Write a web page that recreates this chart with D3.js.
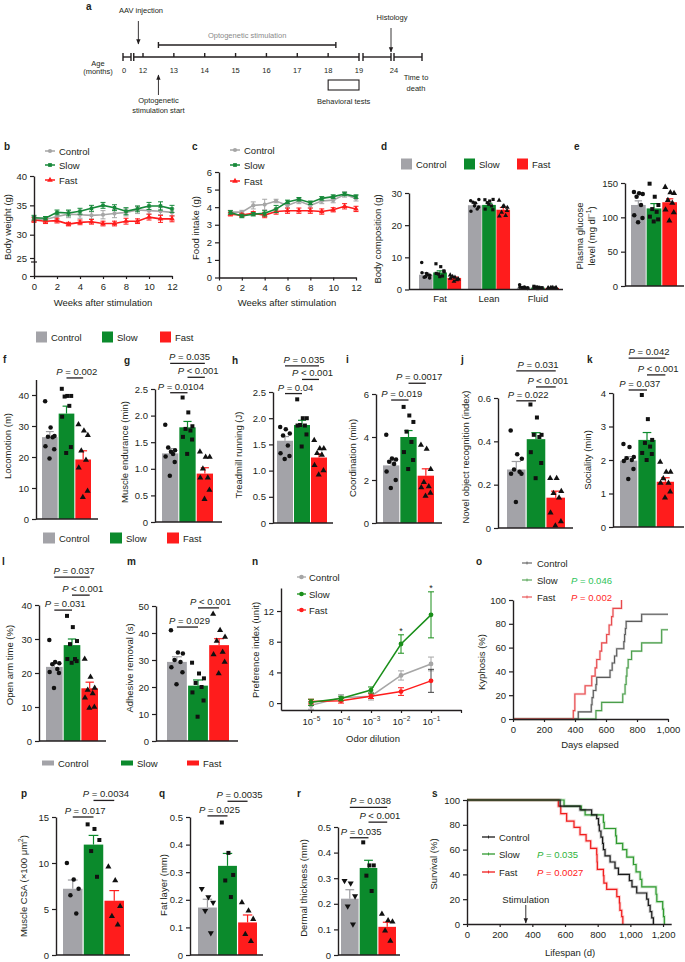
<!DOCTYPE html>
<html>
<head>
<meta charset="utf-8">
<script src="https://cdn.jsdelivr.net/npm/d3@7/dist/d3.min.js"></script>
<style>
  body { margin: 0; background: #fff; }
  svg text { font-family: "Liberation Sans", Arial, Helvetica, sans-serif; }
</style>
</head>
<body>
<svg id="fig" width="685" height="962"></svg>
<script>
// ---------------- data ----------------
const groups = ["Control", "Slow", "Fast"];

// a: timeline
const ageMonths = [12, 13, 14, 15, 16, 17, 18, 19];
const aavMonth = 11.85;
const stimStart = 12.5;
const stimEnd = 18.25;
const behaviorMonths = [18, 19];

// b: body weight (weekly)
const weeksB = [0, 1, 2, 3, 4, 5, 6, 7, 8, 9, 10, 11, 12];
const bwControl = [32.7, 32.6, 33.1, 33.5, 33.4, 33.3, 33.4, 33.6, 33.8, 34.2, 34.1, 34.0, 33.8];
const bwSlow = [32.9, 32.8, 33.8, 33.7, 34.0, 34.5, 35.0, 34.6, 34.0, 34.4, 34.9, 34.9, 34.4];
const bwFast = [32.5, 32.3, 32.4, 31.8, 32.1, 32.2, 31.9, 31.9, 32.3, 32.3, 33.0, 32.7, 32.7];
const bwControlErr = [0.4, 0.4, 0.5, 0.6, 0.6, 0.6, 0.7, 0.7, 0.6, 0.6, 0.6, 0.6, 0.6];
const bwSlowErr = [0.4, 0.3, 0.4, 0.5, 0.5, 0.5, 0.5, 0.5, 0.6, 0.5, 0.6, 0.7, 0.6];
const bwFastErr = [0.4, 0.4, 0.4, 0.3, 0.4, 0.4, 0.4, 0.4, 0.5, 0.4, 0.5, 0.6, 0.5];

// c: food intake (weekly)
const weeksC = [1, 2, 3, 4, 5, 6, 7, 8, 9, 10, 11, 12];
const foodControl = [3.72, 3.72, 4.1, 4.15, 4.35, 4.1, 4.35, 4.1, 4.35, 4.4, 4.72, 4.5];
const foodSlow = [3.7, 3.5, 3.6, 3.65, 3.9, 4.3, 4.45, 4.25, 4.5, 4.6, 4.75, 4.6];
const foodFast = [3.6, 3.55, 3.65, 3.55, 3.75, 3.8, 3.8, 3.8, 3.75, 3.85, 4.05, 3.9];
const foodControlErr = [0.1, 0.1, 0.2, 0.3, 0.1, 0.15, 0.15, 0.15, 0.15, 0.15, 0.15, 0.15];
const foodSlowErr = [0.1, 0.1, 0.1, 0.15, 0.2, 0.1, 0.1, 0.1, 0.1, 0.1, 0.1, 0.1];
const foodFastErr = [0.1, 0.1, 0.1, 0.15, 0.15, 0.15, 0.15, 0.15, 0.15, 0.12, 0.15, 0.15];

// d: body composition
const compCats = ["Fat", "Lean", "Fluid"];
const compControl = [4.6, 26.2, 0.6];
const compSlow = [5.3, 26.3, 0.6];
const compFast = [3.6, 24.8, 0.5];
const compControlErr = [0.6, 0.5, 0.15];
const compSlowErr = [0.5, 0.5, 0.1];
const compFastErr = [0.3, 0.7, 0.05];
const compControlPts = [[8.4, 5.0, 4.4, 3.8, 4.5, 5.2, 3.6, 4.0], [27.6, 26.9, 28.0, 27.1, 25.0, 24.3, 25.6, 26.0], [1.5, 0.8, 0.5, 0.6, 0.4, 0.7, 0.3, 0.5]];
const compSlowPts = [[8.0, 7.1, 5.5, 4.8, 4.2, 5.0, 5.8, 4.0], [27.9, 27.5, 28.0, 27.0, 26.0, 25.0, 24.8, 26.5], [1.0, 0.7, 0.5, 0.8, 0.4, 0.6, 0.5, 0.3]];
const compFastPts = [[4.5, 3.8, 3.2, 4.0, 3.0, 3.5, 3.3, 2.5], [27.7, 26.0, 25.5, 24.0, 23.0, 22.8, 24.5, 25.8], [0.5, 0.6, 0.4, 0.5, 0.3, 0.4, 0.6, 0.5]];

// e: plasma glucose
const glucMean = [118, 113, 122];
const glucErr = [6, 7, 5];
const glucPts = [[137, 135, 134, 130, 118, 103, 99, 93], [149, 130, 118, 112, 108, 101, 97, 94], [144, 136, 135, 125, 121, 111, 107, 95]];

// f: locomotion
const locoMean = [26.4, 34.0, 19.2];
const locoErr = [1.8, 2.4, 2.8];
const locoPts = [[38, 29.5, 26.8, 26.5, 26.4, 23.5, 22.5, 19.5], [42, 39.7, 39.7, 39.5, 36.5, 33, 23.2, 21.3], [30.5, 28.5, 27, 22, 19, 16.5, 9, 7]];
const locoP = [["Slow", "Fast", "=", "0.002"]];

// g: muscle endurance
const endMean = [1.29, 1.78, 0.91];
const endErr = [0.09, 0.11, 0.11];
const endPts = [[1.83, 1.32, 1.35, 1.4, 1.28, 1.23, 1.13, 0.87], [2.34, 2.06, 1.8, 1.75, 1.72, 1.6, 1.55, 1.28], [1.32, 1.22, 1.22, 1.0, 0.83, 0.83, 0.6, 0.43]];
const endP = [["Control", "Fast", "=", "0.035"], ["Slow", "Fast", "<", "0.001"], ["Control", "Slow", "=", "0.0104"]];

// h: treadmill running
const treadMean = [1.57, 1.87, 1.25];
const treadErr = [0.08, 0.09, 0.07];
const treadPts = [[1.83, 1.79, 1.71, 1.67, 1.48, 1.33, 1.28, 1.22], [2.36, 2.0, 2.0, 1.87, 1.86, 1.86, 1.69, 1.46], [1.58, 1.42, 1.42, 1.33, 1.3, 1.1, 1.0, 0.92]];
const treadP = [["Control", "Fast", "=", "0.035"], ["Slow", "Fast", "<", "0.001"], ["Control", "Slow", "=", "0.04"]];

// i: coordination
const coordMean = [2.68, 4.0, 2.2];
const coordErr = [0.22, 0.3, 0.32];
const coordPts = [[4.1, 3.0, 2.95, 2.85, 2.75, 2.4, 2.0, 1.63], [5.4, 5.0, 4.7, 4.25, 3.77, 3.3, 2.93, 2.51], [3.63, 3.44, 2.5, 1.9, 1.7, 1.65, 1.4, 1.26]];
const coordP = [["Slow", "Fast", "=", "0.0017"], ["Control", "Slow", "=", "0.019"]];

// j: novel object recognition
const norMean = [0.27, 0.41, 0.14];
const norErr = [0.037, 0.03, 0.03];
const norPts = [[0.45, 0.34, 0.32, 0.27, 0.26, 0.25, 0.25, 0.12], [0.57, 0.51, 0.43, 0.43, 0.42, 0.35, 0.3, 0.23], [0.23, 0.23, 0.17, 0.16, 0.14, 0.07, 0.03, 0.01]];
const norP = [["Control", "Fast", "=", "0.031"], ["Slow", "Fast", "<", "0.001"], ["Control", "Slow", "=", "0.022"]];

// k: sociality
const socMean = [1.98, 2.6, 1.35];
const socErr = [0.12, 0.22, 0.12];
const socPts = [[2.48, 2.39, 2.09, 2.05, 2.0, 1.97, 1.73, 1.43], [3.94, 3.22, 2.6, 2.51, 2.4, 2.21, 2.18, 2.0], [1.94, 1.64, 1.64, 1.45, 1.31, 1.31, 1.05, 0.87]];
const socP = [["Control", "Fast", "=", "0.042"], ["Slow", "Fast", "<", "0.001"], ["Control", "Slow", "=", "0.037"]];

// l: open arm time
const openMean = [21.8, 28.2, 15.5];
const openErr = [1.0, 1.8, 1.8];
const openPts = [[29.7, 23.2, 22.9, 22.6, 21.2, 20.3, 20, 15.6], [36.8, 33.5, 29.4, 28.5, 24.1, 24.1, 23.5, 23], [24.1, 18.8, 15.6, 15, 14, 12.7, 10, 9.7]];
const openP = [["Control", "Fast", "=", "0.037"], ["Slow", "Fast", "<", "0.001"], ["Control", "Slow", "=", "0.031"]];

// m: adhesive removal
const adhMean = [29.3, 20.5, 35.5];
const adhErr = [1.9, 2.1, 2.4];
const adhPts = [[41, 32.8, 32.4, 30, 29.3, 27.3, 25.5, 21], [29, 25, 23.2, 21.5, 20, 18, 15, 9], [47, 41, 38.5, 37, 33, 32, 29.3, 25]];
const adhP = [["Slow", "Fast", "<", "0.001"], ["Control", "Slow", "=", "0.029"]];

// n: odor preference
const odor = [1e-5, 1e-4, 1e-3, 1e-2, 1e-1];
const prefControl = [-0.3, 0.7, 0.9, 3.6, 5.1];
const prefSlow = [0.1, 0.6, 1.7, 7.7, 11.5];
const prefFast = [0.2, 0.3, 0.9, 1.5, 2.9];
const prefControlErr = [0.5, 0.4, 0.5, 0.6, 0.9];
const prefSlowErr = [0.4, 0.3, 0.4, 1.2, 3.0];
const prefFastErr = [0.3, 0.3, 0.3, 0.5, 1.5];
const prefStars = [1e-2, 1e-1];

// o: kyphosis onset (days, %)
const kyphControl = [[0, 0], [421, 6], [505, 12], [510, 18], [518, 24], [535, 29], [540, 35], [626, 41], [640, 47], [655, 53], [669, 59], [715, 65], [720, 71], [725, 76], [730, 82], [830, 88], [1000, 88]];
const kyphSlow = [[0, 0], [535, 7], [572, 14], [708, 21], [723, 29], [730, 36], [735, 43], [743, 50], [765, 57], [830, 64], [959, 75], [1000, 75]];
const kyphFast = [[0, 0], [389, 7], [399, 21], [465, 28], [508, 36], [530, 43], [540, 50], [561, 57], [572, 64], [604, 71], [620, 79], [636, 86], [645, 93], [700, 100], [700, 100]];
const kyphP = ["0.046", "0.002"];

// p-r: histology
const csaMean = [7.2, 12.0, 5.9];
const csaErr = [0.95, 1.0, 1.1];
const csaPts = [[10, 8.2, 7.2, 6.5, 4.5], [14.2, 13.7, 12.5, 11.3, 8.5], [9.6, 8.1, 5.3, 4.2, 3.3]];
const csaP = [["Slow", "Fast", "=", "0.0034"], ["Control", "Slow", "=", "0.017"]];
const fatMean = [0.172, 0.323, 0.118];
const fatErr = [0.03, 0.045, 0.027];
const fatPts = [[0.24, 0.21, 0.19, 0.16, 0.08], [0.48, 0.37, 0.29, 0.27, 0.21], [0.19, 0.16, 0.13, 0.075, 0.05]];
const fatP = [["Slow", "Fast", "=", "0.0035"], ["Control", "Slow", "=", "0.025"]];
const dermMean = [0.22, 0.34, 0.11];
const dermErr = [0.035, 0.03, 0.018];
const dermPts = [[0.29, 0.28, 0.23, 0.19, 0.12], [0.44, 0.35, 0.35, 0.31, 0.25], [0.16, 0.135, 0.13, 0.095, 0.055]];
const dermP = [["Control", "Fast", "=", "0.038"], ["Slow", "Fast", "<", "0.001"], ["Control", "Slow", "=", "0.035"]];

// s: survival (days, %)
const survControl = [[0, 100], [570, 95], [692, 92], [763, 88], [794, 85], [805, 80], [810, 75], [820, 70], [830, 65], [835, 60], [845, 55], [876, 50], [906, 45], [927, 40], [994, 35], [1010, 30], [1039, 25], [1100, 20], [1110, 15], [1121, 10], [1131, 5], [1141, 0]];
const survSlow = [[0, 100], [594, 95], [700, 92], [723, 88], [835, 82], [840, 77], [910, 71], [915, 65], [953, 60], [978, 54], [1019, 48], [1035, 42], [1060, 36], [1070, 30], [1157, 24], [1162, 18], [1198, 12], [1203, 6], [1208, 0]];
const survFast = [[0, 100], [559, 95], [574, 89], [610, 83], [655, 78], [692, 72], [729, 67], [757, 61], [794, 56], [796, 50], [798, 44], [835, 39], [838, 33], [855, 28], [917, 22], [933, 17], [936, 11], [947, 6], [954, 0]];
const survP = ["0.035", "0.0027"];
const stimDay = 360;

// ---------------- style ----------------
const INK = "#231f20";
const FONT = 9.5;
const fillCol = { Control: "#a3a3a8", Slow: "#0b8a2c", Fast: "#ff1c1c" };
const errCol = { Control: "#9c9ca0", Slow: "#0b8a2c", Fast: "#ff1c1c" };
const lineCol = { Control: "#a6a6a6", Slow: "#17893a", Fast: "#ff1c1c" };
const symFor = { Control: d3.symbolCircle, Slow: d3.symbolSquare, Fast: d3.symbolTriangle };
const fmt1 = (d) => (d === 0 ? "0" : d3.format(".1f")(d));
const jit = [-0.3, 0.05, 0.3, -0.12, 0.18, -0.28, 0.28, -0.02];

const svg = d3.select("#fig");
svg.append("rect").attr("width", 685).attr("height", 962).attr("fill", "#fff");
const defs = svg.append("defs");
defs.append("marker").attr("id", "arr").attr("viewBox", "0 0 10 10").attr("refX", 9).attr("refY", 5)
  .attr("markerWidth", 6).attr("markerHeight", 6).attr("orient", "auto")
  .append("path").attr("d", "M0,1L10,5L0,9z").attr("fill", INK);

// ---------------- helpers ----------------
function txt(x, y, s, o = {}) {
  return svg.append("text").attr("x", x).attr("y", y)
    .attr("font-size", o.size || FONT)
    .attr("text-anchor", o.anchor || "start")
    .attr("dominant-baseline", "central")
    .attr("fill", o.fill || INK)
    .attr("font-weight", o.weight || null)
    .text(s);
}

function letter(s, x, y) {
  txt(x, y, s, { weight: "bold", size: 10 });
}

function yTitle(s, x, y) {
  return svg.append("text").attr("transform", `translate(${x},${y}) rotate(-90)`)
    .attr("text-anchor", "middle").attr("dominant-baseline", "central")
    .attr("font-size", FONT).attr("fill", INK).text(s);
}

function tidy(g) {
  g.attr("font-family", null).attr("font-size", FONT).attr("color", INK);
  g.select(".domain").attr("stroke-width", 1.4);
  g.selectAll(".tick line").attr("stroke-width", 1.2);
}

function leftAxis(y, x, ticks, fmt) {
  const g = svg.append("g").attr("transform", `translate(${x},0)`)
    .call(d3.axisLeft(y).tickValues(ticks).tickFormat(fmt || d3.format(",")).tickSize(4).tickSizeOuter(0).tickPadding(3));
  tidy(g);
  return g;
}

function bottomAxis(x, y, ticks, fmt) {
  const g = svg.append("g").attr("transform", `translate(0,${y})`)
    .call(d3.axisBottom(x).tickValues(ticks).tickFormat(fmt || d3.format(",")).tickSize(3).tickSizeOuter(0).tickPadding(4));
  tidy(g);
  return g;
}

function pLabel(x, y, op, val, anchor, fill) {
  const t = svg.append("text").attr("x", x).attr("y", y)
    .attr("text-anchor", anchor || "middle").attr("font-size", FONT).attr("fill", fill || INK);
  t.append("tspan").attr("font-style", "italic").text("P");
  t.append("tspan").text(` ${op} ${val}`);
  return t;
}

function symbolPath(sym, size) {
  return d3.symbol().type(sym).size(size)();
}

function dots(g, vals, cx, bw, y, sym, size, flip) {
  g.append("g").selectAll("path").data(vals).join("path")
    .attr("d", symbolPath(sym, size || 15))
    .attr("transform", (v, i) => `translate(${cx + jit[i % jit.length] * bw},${y(v)})${flip ? " rotate(180)" : ""}`)
    .attr("fill", "#111");
}

function errBars(g, items, y, cap) {
  items.forEach((it) => {
    g.append("line").attr("x1", it.cx).attr("x2", it.cx).attr("y1", y(it.m)).attr("y2", y(it.m + it.e))
      .attr("stroke", it.col).attr("stroke-width", 1.2);
    g.append("line").attr("x1", it.cx - cap / 2).attr("x2", it.cx + cap / 2).attr("y1", y(it.m + it.e)).attr("y2", y(it.m + it.e))
      .attr("stroke", it.col).attr("stroke-width", 1.2);
  });
}

function squareLegend(xs, y, w, h) {
  groups.forEach((grp, i) => {
    svg.append("rect").attr("x", xs[i]).attr("y", y - h / 2).attr("width", w).attr("height", h).attr("fill", fillCol[grp]);
    txt(xs[i] + w + 4, y, grp);
  });
}

function barPanel(L, mean, err, pts, pvals, ctrlSym) {
  const y = d3.scaleLinear().domain([0, L.top]).range([L.base, L.topPx]);
  const x = d3.scaleBand().domain(groups).range(L.bars).paddingInner(0.06);
  const bw = x.bandwidth();
  const g = svg.append("g");
  g.selectAll("rect").data(groups).join("rect")
    .attr("x", (d) => x(d)).attr("width", bw)
    .attr("y", (d, i) => y(mean[i])).attr("height", (d, i) => y(0) - y(mean[i]))
    .attr("fill", (d) => fillCol[d]);
  errBars(g, groups.map((d, i) => ({ cx: x(d) + bw / 2, m: mean[i], e: err[i], col: errCol[d] })), y, bw * 0.5);
  groups.forEach((grp, gi) => {
    const down = grp === "Control" && ctrlSym === "down";
    const sym = down ? d3.symbolTriangle : symFor[grp];
    dots(g, pts[gi], x(grp) + bw / 2, bw, y, sym, 16, down);
  });
  leftAxis(y, L.ax, L.ticks, L.fmt);
  svg.append("line").attr("x1", L.ax).attr("x2", L.xEnd).attr("y1", y(0)).attr("y2", y(0))
    .attr("stroke", INK).attr("stroke-width", 1.4);
  (pvals || []).forEach(([a, b, op, val], i) => {
    const yy = y(L.pLevels[i]);
    const x1 = x(a) + bw / 2;
    const x2 = x(b) + bw / 2;
    svg.append("line").attr("x1", x1).attr("x2", x2).attr("y1", yy).attr("y2", yy)
      .attr("stroke", INK).attr("stroke-width", 1.3);
    pLabel((x1 + x2) / 2 + 2, yy - 3, op, val);
  });
}

function lineSeries(g, x, y, xs, vals, errs, grp, sym, symSize) {
  g.append("path").datum(vals)
    .attr("d", d3.line().x((v, i) => x(xs[i])).y((v) => y(v)))
    .attr("fill", "none").attr("stroke", lineCol[grp]).attr("stroke-width", 1.6);
  vals.forEach((v, i) => {
    const cx = x(xs[i]);
    g.append("line").attr("x1", cx).attr("x2", cx).attr("y1", y(v - errs[i])).attr("y2", y(v + errs[i]))
      .attr("stroke", lineCol[grp]).attr("stroke-width", 1);
    [v - errs[i], v + errs[i]].forEach((e) => g.append("line").attr("x1", cx - 2.5).attr("x2", cx + 2.5)
      .attr("y1", y(e)).attr("y2", y(e)).attr("stroke", lineCol[grp]).attr("stroke-width", 1));
  });
  g.append("g").selectAll("path").data(vals).join("path")
    .attr("d", symbolPath(sym, symSize || 14))
    .attr("transform", (v, i) => `translate(${x(xs[i])},${y(v)})`)
    .attr("fill", lineCol[grp]);
}

function lineLegend(x1, x2, tx, ys, syms, cols) {
  groups.forEach((grp, i) => {
    svg.append("line").attr("x1", x1).attr("x2", x2).attr("y1", ys[i]).attr("y2", ys[i])
      .attr("stroke", cols[grp]).attr("stroke-width", 1.5);
    svg.append("path").attr("d", symbolPath(syms[grp], 14))
      .attr("transform", `translate(${(x1 + x2) / 2},${ys[i]})`).attr("fill", cols[grp]);
    txt(tx, ys[i], grp);
  });
}

// ---------------- a: timeline ----------------
(function timeline() {
  const t = d3.scaleLinear().domain([12, 19]).range([143, 359]);
  const ty = 57;
  const FA = 7.5;
  const g = svg.append("g").attr("stroke", INK).attr("stroke-width", 1.4);
  const seg = (x1, x2, y, h) => {
    g.append("line").attr("x1", x1).attr("x2", x2).attr("y1", y).attr("y2", y);
    [x1, x2].forEach((xx) => g.append("line").attr("x1", xx).attr("x2", xx).attr("y1", y - h).attr("y2", y + h));
  };
  seg(123, 131, ty, 4);
  seg(t(11.7), t(19), ty, 4);
  seg(363, 391, ty, 4);
  seg(394, 422, ty, 4);
  ageMonths.slice(0, -1).forEach((m) => g.append("line").attr("x1", t(m)).attr("x2", t(m)).attr("y1", ty).attr("y2", ty - 4));
  seg(t(stimStart), t(stimEnd), 45, 3);
  g.append("rect").attr("x", t(behaviorMonths[0])).attr("y", 80).attr("width", t(behaviorMonths[1]) - t(behaviorMonths[0])).attr("height", 10)
    .attr("fill", "none").attr("stroke-width", 1.1);
  const arrow = (x, y1, y2) => svg.append("line").attr("x1", x).attr("x2", x).attr("y1", y1).attr("y2", y2)
    .attr("stroke", INK).attr("stroke-width", 0.9).attr("marker-end", "url(#arr)");
  arrow(t(aavMonth), 21, 44);
  arrow(t(stimStart), 95, 75);
  arrow(391, 28, 52);

  letter("a", 86, 6);
  txt(141, 10, "AAV injection", { size: FA, anchor: "middle" });
  txt((t(stimStart) + t(stimEnd)) / 2, 35, "Optogenetic stimulation", { size: FA, anchor: "middle", fill: "#8a8a8a" });
  txt(392, 17, "Histology", { size: FA, anchor: "middle" });
  txt(98, 63, "Age", { size: FA, anchor: "middle" });
  txt(98, 71, "(months)", { size: FA, anchor: "middle" });
  txt(124, 70, "0", { size: FA, anchor: "middle" });
  ageMonths.forEach((m) => txt(t(m), 70, String(m), { size: FA, anchor: "middle" }));
  txt(394, 70, "24", { size: FA, anchor: "middle" });
  txt(416, 77, "Time to", { size: FA, anchor: "middle" });
  txt(416, 88, "death", { size: FA, anchor: "middle" });
  txt(t(stimStart), 100, "Optogenetic", { size: FA, anchor: "middle" });
  txt(t(stimStart), 110, "stimulation start", { size: FA, anchor: "middle" });
  txt((t(behaviorMonths[0]) + t(behaviorMonths[1])) / 2, 101, "Behavioral tests", { size: FA, anchor: "middle" });
})();

// ---------------- b: body weight ----------------
(function panelB() {
  letter("b", 4, 146);
  const x = d3.scaleLinear().domain([0, 12]).range([34, 172]);
  const y = d3.scaleLinear().domain([0, 25, 30, 40]).range([276, 258, 234.7, 176]);
  const g = svg.append("g");
  lineSeries(g, x, y, weeksB, bwControl, bwControlErr, "Control", d3.symbolCircle);
  lineSeries(g, x, y, weeksB, bwFast, bwFastErr, "Fast", d3.symbolTriangle);
  lineSeries(g, x, y, weeksB, bwSlow, bwSlowErr, "Slow", d3.symbolSquare, 12);
  leftAxis(y, 34, [0, 25, 30, 35, 40]);
  svg.append("line").attr("x1", 31).attr("x2", 37).attr("y1", 262).attr("y2", 262).attr("stroke", INK).attr("stroke-width", 1.2);
  bottomAxis(x, 276, [0, 2, 4, 6, 8, 10, 12], d3.format("d"));
  txt(103, 302, "Weeks after stimulation", { anchor: "middle" });
  yTitle("Body weight (g)", 7, 227);
  lineLegend(45, 55, 59, [151, 165, 180], symFor, lineCol);
})();

// ---------------- c: food intake ----------------
(function panelC() {
  letter("c", 192, 146);
  const x = d3.scaleLinear().domain([0, 12]).range([219, 356]);
  const y = d3.scaleLinear().domain([0, 6]).range([277.5, 172]);
  const g = svg.append("g");
  lineSeries(g, x, y, weeksC, foodControl, foodControlErr, "Control", d3.symbolCircle);
  lineSeries(g, x, y, weeksC, foodFast, foodFastErr, "Fast", d3.symbolTriangle);
  lineSeries(g, x, y, weeksC, foodSlow, foodSlowErr, "Slow", d3.symbolSquare, 12);
  leftAxis(y, 219, [0, 1, 2, 3, 4, 5, 6]);
  bottomAxis(x, 277.5, [0, 2, 4, 6, 8, 10, 12], d3.format("d"));
  txt(287, 302, "Weeks after stimulation", { anchor: "middle" });
  yTitle("Food intake (g)", 195, 228);
  lineLegend(230, 240, 244, [150, 165, 181], symFor, lineCol);
})();

// ---------------- d: body composition ----------------
(function panelD() {
  letter("d", 381, 146);
  squareLegend([401, 464, 517], 164, 11, 11);
  const y = d3.scaleLinear().domain([0, 30]).range([289.5, 193]);
  const x = d3.scaleBand().domain(compCats).range([419, 559]).paddingInner(0.14);
  const xi = d3.scaleBand().domain(groups).range([0, x.bandwidth()]).paddingInner(0.04);
  const means = [compControl, compSlow, compFast];
  const errs = [compControlErr, compSlowErr, compFastErr];
  const pts = [compControlPts, compSlowPts, compFastPts];
  const g = svg.append("g");
  compCats.forEach((cat, ci) => {
    groups.forEach((grp, gi) => {
      const bx = x(cat) + xi(grp);
      const bw = xi.bandwidth();
      g.append("rect").attr("x", bx).attr("width", bw).attr("y", y(means[gi][ci]))
        .attr("height", y(0) - y(means[gi][ci])).attr("fill", fillCol[grp]);
      errBars(g, [{ cx: bx + bw / 2, m: means[gi][ci], e: errs[gi][ci], col: errCol[grp] }], y, bw * 0.5);
      dots(g, pts[gi][ci], bx + bw / 2, bw, y, symFor[grp], 10);
    });
    txt(x(cat) + x.bandwidth() / 2, 298, cat, { anchor: "middle" });
  });
  leftAxis(y, 409, [0, 10, 20, 30]);
  svg.append("line").attr("x1", 409).attr("x2", 563).attr("y1", y(0)).attr("y2", y(0)).attr("stroke", INK).attr("stroke-width", 1.4);
  yTitle("Body composition (g)", 377, 239);
})();

// ---------------- e: plasma glucose ----------------
letter("e", 574, 146);
barPanel({ ax: 625, bars: [631, 677], xEnd: 684, base: 286, topPx: 183, top: 150, ticks: [0, 50, 100, 150] }, glucMean, glucErr, glucPts);
yTitle("Plasma glucose", 579, 236);
(function () {
  const t = svg.append("text").attr("transform", "translate(591,236) rotate(-90)")
    .attr("text-anchor", "middle").attr("dominant-baseline", "central").attr("font-size", FONT).attr("fill", INK);
  t.append("tspan").text("level (mg dl");
  t.append("tspan").attr("dy", -3).attr("font-size", 6.5).text("−1");
  t.append("tspan").attr("dy", 3).text(")");
})();

// ---------------- f-k ----------------
squareLegend([36, 102, 160], 337, 11, 11);
letter("f", 3, 359);
barPanel({ ax: 36, bars: [42, 91], xEnd: 98, base: 519, topPx: 379.5, top: 45, ticks: [0, 10, 20, 30, 40], pLevels: [45.5] }, locoMean, locoErr, locoPts, locoP);
yTitle("Locomotion (m)", 7, 446);
letter("g", 124, 360);
barPanel({ ax: 155, bars: [162, 213], xEnd: 222, base: 522, topPx: 389, top: 2.5, ticks: [0, 0.5, 1, 1.5, 2, 2.5], fmt: fmt1, pLevels: [2.98, 2.72, 2.43] }, endMean, endErr, endPts, endP);
yTitle("Muscle endurance (min)", 124, 452);
letter("h", 232, 360);
barPanel({ ax: 273, bars: [277, 327], xEnd: 333, base: 523, topPx: 392, top: 2.5, ticks: [0, 0.5, 1, 1.5, 2, 2.5], fmt: fmt1, pLevels: [3.0, 2.74, 2.47] }, treadMean, treadErr, treadPts, treadP);
yTitle("Treadmill running (J)", 238, 455);
letter("i", 346, 359);
barPanel({ ax: 376, bars: [383, 434], xEnd: 442, base: 523, topPx: 394, top: 6, ticks: [0, 2, 4, 6], pLevels: [6.5, 5.72] }, coordMean, coordErr, coordPts, coordP);
yTitle("Coordination (min)", 352, 458);
letter("j", 461, 359);
barPanel({ ax: 498, bars: [507, 565], xEnd: 573, base: 528, topPx: 398, top: 0.6, ticks: [0, 0.2, 0.4, 0.6], fmt: fmt1, pLevels: [0.725, 0.651, 0.587] }, norMean, norErr, norPts, norP);
yTitle("Novel object recognition (index)", 465, 457);
letter("k", 587, 359);
barPanel({ ax: 613, bars: [620, 674], xEnd: 684, base: 527, topPx: 393, top: 4, ticks: [0, 1, 2, 3, 4], pLevels: [5.04, 4.54, 4.09] }, socMean, socErr, socPts, socP);
yTitle("Sociality (min)", 587, 460);
squareLegend([43, 110, 167], 538, 12, 11);

// ---------------- l, m ----------------
letter("l", 2, 561);
barPanel({ ax: 39, bars: [46, 98], xEnd: 106, base: 741, topPx: 605, top: 40, ticks: [0, 10, 20, 30, 40], pLevels: [48.2, 42.9, 38.5] }, openMean, openErr, openPts, openP);
yTitle("Open arm time (%)", 9, 665);
letter("m", 127, 561);
barPanel({ ax: 156, bars: [167, 229], xEnd: 238, base: 741, topPx: 606, top: 50, ticks: [0, 10, 20, 30, 40, 50], pLevels: [49.3, 42.2] }, adhMean, adhErr, adhPts, adhP);
yTitle("Adhesive removal (s)", 129, 668);
squareLegend([42, 121, 187], 763, 12, 5);

// ---------------- n: odor preference ----------------
(function panelN() {
  letter("n", 252, 561);
  const x = d3.scaleLog().domain([1e-6, 1]).range([281, 461]);
  const y = d3.scaleLinear().domain([-0.9, 15]).range([710, 588]);
  const nCol = { Control: "#a6a6a6", Slow: "#1a8f1a", Fast: "#ff1c1c" };
  const series = [["Control", prefControl, prefControlErr], ["Fast", prefFast, prefFastErr], ["Slow", prefSlow, prefSlowErr]];
  const g = svg.append("g");
  series.forEach(([grp, vals, errs]) => {
    g.append("path").datum(vals).attr("d", d3.line().x((v, i) => x(odor[i])).y((v) => y(v)))
      .attr("fill", "none").attr("stroke", nCol[grp]).attr("stroke-width", 1.5);
    vals.forEach((v, i) => {
      const cx = x(odor[i]);
      const ec = grp === "Fast" && i === 4 ? "#444" : nCol[grp];
      g.append("line").attr("x1", cx).attr("x2", cx).attr("y1", y(v - errs[i])).attr("y2", y(v + errs[i])).attr("stroke", ec).attr("stroke-width", 1);
      [v - errs[i], v + errs[i]].forEach((e) => g.append("line").attr("x1", cx - 3).attr("x2", cx + 3).attr("y1", y(e)).attr("y2", y(e)).attr("stroke", ec).attr("stroke-width", 1));
      g.append("circle").attr("cx", cx).attr("cy", y(v)).attr("r", 2.4).attr("fill", nCol[grp]);
    });
  });
  prefStars.forEach((d) => {
    const i = odor.indexOf(d);
    txt(x(d), y(prefSlow[i] + prefSlowErr[i]) - 4, "*", { anchor: "middle", size: 9 });
  });
  leftAxis(y, 281, [0, 4, 8, 12], d3.format("d"));
  const ax = bottomAxis(x, 710, [...odor, 1], () => "");
  ax.selectAll(".tick").each(function (d) {
    if (d >= 1) return;
    const t = d3.select(this).append("text").attr("y", 15).attr("text-anchor", "middle").attr("font-size", FONT).attr("fill", INK);
    t.append("tspan").text("10");
    t.append("tspan").attr("dy", -4).attr("font-size", 6.5).text("−" + Math.round(-Math.log10(d)));
  });
  txt(373, 738, "Odor dilution", { anchor: "middle" });
  yTitle("Preference index (unit)", 255, 650);
  groups.forEach((grp, i) => {
    const yy = [577, 594, 610][i];
    svg.append("line").attr("x1", 297).attr("x2", 306).attr("y1", yy).attr("y2", yy).attr("stroke", nCol[grp]).attr("stroke-width", 1.3);
    svg.append("circle").attr("cx", 301.5).attr("cy", yy).attr("r", 2.3).attr("fill", nCol[grp]);
    txt(309, yy, grp);
  });
})();

// ---------------- o: kyphosis ----------------
(function panelO() {
  letter("o", 476, 561);
  const x = d3.scaleLinear().domain([0, 1000]).range([513, 668]);
  const y = d3.scaleLinear().domain([0, 100]).range([719, 600]);
  const oCol = { Control: "#5a5a5a", Slow: "#4b9e4b", Fast: "#e8494c" };
  const line = d3.line().x((d) => x(d[0])).y((d) => y(d[1])).curve(d3.curveStepAfter);
  [["Slow", kyphSlow], ["Control", kyphControl], ["Fast", kyphFast]].forEach(([grp, pts]) => {
    svg.append("path").datum(pts).attr("d", line).attr("fill", "none").attr("stroke", oCol[grp]).attr("stroke-width", 2.4).attr("stroke-opacity", 0.25);
    svg.append("path").datum(pts).attr("d", line).attr("fill", "none").attr("stroke", oCol[grp]).attr("stroke-width", 1.1);
  });
  leftAxis(y, 513, [0, 20, 40, 60, 80, 100], d3.format("d"));
  bottomAxis(x, 719, [0, 200, 400, 600, 800, 1000]);
  txt(590, 744, "Days elapsed", { anchor: "middle" });
  yTitle("Kyphosis (%)", 481, 662);
  const pCol = { Slow: "#2ec45a", Fast: "#ff2a2a" };
  groups.forEach((grp, i) => {
    const yy = [563, 580, 597][i];
    svg.append("line").attr("x1", 522).attr("x2", 532).attr("y1", yy).attr("y2", yy).attr("stroke", oCol[grp]).attr("stroke-width", 1.1);
    svg.append("line").attr("x1", 527).attr("x2", 527).attr("y1", yy - 1.5).attr("y2", yy + 1.5).attr("stroke", oCol[grp]).attr("stroke-width", 0.8);
    txt(537, yy, grp);
    if (i > 0) pLabel(571, yy, "=", kyphP[i - 1], "start", pCol[grp]).attr("dominant-baseline", "central");
  });
})();

// ---------------- p, q, r: histology ----------------
letter("p", 21, 793);
barPanel({ ax: 56, bars: [63, 124], xEnd: 130, base: 955, topPx: 817, top: 15, ticks: [0, 5, 10, 15], pLevels: [16.8, 15.0] }, csaMean, csaErr, csaPts, csaP);
(function () {
  const t = svg.append("text").attr("transform", "translate(23,886) rotate(-90)")
    .attr("text-anchor", "middle").attr("dominant-baseline", "central").attr("font-size", FONT).attr("fill", INK);
  t.append("tspan").text("Muscle CSA (×100 μm");
  t.append("tspan").attr("dy", -3).attr("font-size", 6.5).text("2");
  t.append("tspan").attr("dy", 3).text(")");
})();
letter("q", 159, 793);
barPanel({ ax: 190, bars: [198, 257], xEnd: 263, base: 955, topPx: 817, top: 0.5, ticks: [0, 0.1, 0.2, 0.3, 0.4, 0.5], fmt: fmt1, pLevels: [0.557, 0.504] }, fatMean, fatErr, fatPts, fatP, "down");
yTitle("Fat layer (mm)", 163, 885);
letter("r", 297, 793);
barPanel({ ax: 338, bars: [341, 396], xEnd: 400, base: 955, topPx: 827, top: 0.5, ticks: [0, 0.1, 0.2, 0.3, 0.4, 0.5], fmt: fmt1, pLevels: [0.577, 0.519, 0.458] }, dermMean, dermErr, dermPts, dermP, "down");
yTitle("Dermal thickness (mm)", 303, 888);

// ---------------- s: survival ----------------
(function panelS() {
  letter("s", 432, 793);
  const x = d3.scaleLinear().domain([0, 1250]).range([467, 671.2]);
  const y = d3.scaleLinear().domain([0, 100]).range([924, 800]);
  const sCol = { Control: "#1a1a1a", Slow: "#2f9a2f", Fast: "#f01c1c" };
  const line = d3.line().x((d) => x(d[0])).y((d) => y(d[1])).curve(d3.curveStepAfter);
  [["Fast", survFast], ["Slow", survSlow], ["Control", survControl]].forEach(([grp, pts]) => {
    svg.append("path").datum(pts).attr("d", line).attr("fill", "none").attr("stroke", sCol[grp]).attr("stroke-width", 3).attr("stroke-opacity", 0.22);
    svg.append("path").datum(pts).attr("d", line).attr("fill", "none").attr("stroke", sCol[grp]).attr("stroke-width", 1.2);
  });
  leftAxis(y, 467, [0, 20, 40, 60, 80, 100], d3.format("d"));
  bottomAxis(x, 924, [0, 200, 400, 600, 800, 1000, 1200]);
  txt(570, 952, "Lifespan (d)", { anchor: "middle" });
  yTitle("Survival (%)", 433, 864);
  txt(x(stimDay), 899, "Stimulation", { anchor: "middle" });
  svg.append("line").attr("x1", x(stimDay)).attr("x2", x(stimDay)).attr("y1", 905).attr("y2", 923)
    .attr("stroke", INK).attr("stroke-width", 0.9).attr("marker-end", "url(#arr)");
  const pCol = { Slow: "#2eb33a", Fast: "#ff2020" };
  groups.forEach((grp, i) => {
    const yy = [837, 854, 872][i];
    svg.append("line").attr("x1", 482).attr("x2", 495).attr("y1", yy).attr("y2", yy).attr("stroke", sCol[grp]).attr("stroke-width", 1.3);
    svg.append("line").attr("x1", 488.5).attr("x2", 488.5).attr("y1", yy - 1.5).attr("y2", yy + 1.5).attr("stroke", sCol[grp]).attr("stroke-width", 0.8);
    txt(499, yy, grp);
    if (i > 0) pLabel(537, yy, "=", survP[i - 1], "start", pCol[grp]).attr("dominant-baseline", "central");
  });
})();
</script>
</body>
</html>
